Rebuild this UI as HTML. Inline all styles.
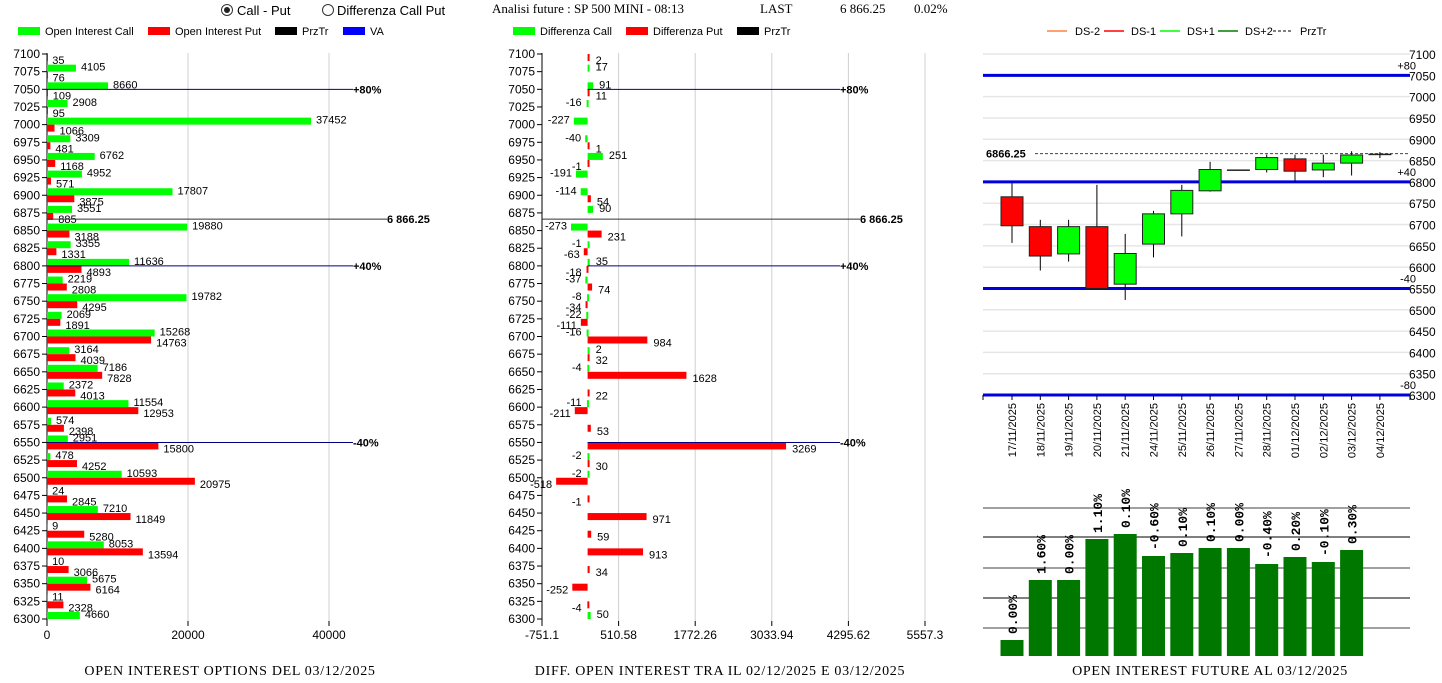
<!DOCTYPE html>
<html><head><meta charset="utf-8">
<style>
html,body{margin:0;padding:0;background:#fff;width:1442px;height:683px;overflow:hidden}
svg{display:block;font-family:"Liberation Sans",sans-serif}
.ser{font-family:"Liberation Serif",serif}
.ttl{font-family:"Liberation Serif",serif;font-size:14px;letter-spacing:0.7px}
</style></head>
<body>
<svg id="s" width="1442" height="683" viewBox="0 0 1442 683" xmlns="http://www.w3.org/2000/svg">
<g>
  <g><circle cx="227" cy="10" r="5.5" fill="#fff" stroke="#333"/><circle cx="227" cy="10" r="3" fill="#222"/><text x="237" y="15" font-size="13">Call - Put</text></g>
  <g><circle cx="328" cy="10" r="5.5" fill="#fff" stroke="#333"/><text x="337" y="15" font-size="13">Differenza Call Put</text></g>
  <text class="ser" x="492" y="13" font-size="13">Analisi future : SP 500 MINI - 08:13</text>
  <text class="ser" x="760" y="13" font-size="13">LAST</text>
  <text class="ser" x="840" y="13" font-size="13">6 866.25</text>
  <text class="ser" x="914" y="13" font-size="13">0.02%</text>
</g>
<g font-size="11">
  <rect x="18" y="27" width="22" height="8" fill="#00ff00"/><text x="45" y="35">Open Interest Call</text>
  <rect x="148" y="27" width="22" height="8" fill="#ff0000"/><text x="175" y="35">Open Interest Put</text>
  <rect x="275" y="27" width="22" height="8" fill="#000"/><text x="302" y="35">PrzTr</text>
  <rect x="343" y="27" width="22" height="8" fill="#0000ff"/><text x="370" y="35">VA</text>
</g>
<g font-size="11">
  <rect x="513" y="27" width="22" height="8" fill="#00ff00"/><text x="540" y="35">Differenza Call</text>
  <rect x="626" y="27" width="22" height="8" fill="#ff0000"/><text x="653" y="35">Differenza Put</text>
  <rect x="737" y="27" width="22" height="8" fill="#000"/><text x="764" y="35">PrzTr</text>
</g>
<g font-size="11">
  <line x1="1047" y1="31" x2="1067" y2="31" stroke="#ff8040" stroke-width="1.5"/><text x="1075" y="35">DS-2</text>
  <line x1="1104" y1="31" x2="1124" y2="31" stroke="#ff0000" stroke-width="1.5"/><text x="1131" y="35">DS-1</text>
  <line x1="1160" y1="31" x2="1180" y2="31" stroke="#00ff00" stroke-width="1.5"/><text x="1187" y="35">DS+1</text>
  <line x1="1218" y1="31" x2="1238" y2="31" stroke="#008000" stroke-width="1.5"/><text x="1245" y="35">DS+2</text>
  <line x1="1273" y1="31" x2="1293" y2="31" stroke="#000" stroke-dasharray="3,2"/><text x="1300" y="35">PrzTr</text>
</g>
<text class="ttl" x="230" y="675" text-anchor="middle">OPEN INTEREST OPTIONS DEL 03/12/2025</text>
<text class="ttl" x="720" y="675" text-anchor="middle">DIFF. OPEN INTEREST TRA IL 02/12/2025 E 03/12/2025</text>
<text class="ttl" x="1210" y="675" text-anchor="middle">OPEN INTEREST FUTURE AL 03/12/2025</text>
<g id="g1"></g>
<g id="g2"></g>
<g id="g3"></g>
<g id="g4"></g>
</svg>
<script>
const strikes=[7100,7075,7050,7025,7000,6975,6950,6925,6900,6875,6850,6825,6800,6775,6750,6725,6700,6675,6650,6625,6600,6575,6550,6525,6500,6475,6450,6425,6400,6375,6350,6325,6300];
const oiCall=[null,4105,8660,2908,37452,3309,6762,4952,17807,3551,19880,3355,11636,2219,19782,2069,15268,3164,7186,2372,11554,574,2951,478,10593,24,7210,9,8053,10,5675,11,4660];
const oiPut=[35,76,109,95,1066,481,1168,571,3875,885,3188,1331,4893,2808,4295,1891,14763,4039,7828,4013,12953,2398,15800,4252,20975,2845,11849,5280,13594,3066,6164,2328,null];
const diffCall=[null,17,91,-16,-227,-40,251,-191,-114,90,-273,-1,35,-37,-8,-22,-16,2,-4,null,-11,null,null,-2,-2,null,null,null,null,null,null,null,50];
const diffPut=[2,null,11,null,null,1,-1,null,54,null,231,-63,-18,74,-34,-111,984,32,1628,22,-211,53,3269,30,-518,-1,971,59,913,34,-252,-4,null];
const oiTicks=[0,20000,40000];
const diffTicks=[-751.1,510.58,1772.26,3033.94,4295.62,5557.3];
const przTr=6866.25;
const vaLevels=[7050,6800,6550];
const vaLabels=["+80%","+40%","-40%"];
const dates=["17/11/2025","18/11/2025","19/11/2025","20/11/2025","21/11/2025","24/11/2025","25/11/2025","26/11/2025","27/11/2025","28/11/2025","01/12/2025","02/12/2025","03/12/2025","04/12/2025"];
const cOpen=[6765,6695,6631,6695,6560,6654,6725,6779,6828,6829,6854,6828,6844,6865];
const cClose=[6697,6626,6695,6550,6632,6725,6780,6829,6828,6857,6825,6844,6863,6865];
const cHigh=[6797,6711,6711,6793,6678,6732,6793,6847,6828,6864,6864,6864,6872,6870];
const cLow=[6657,6592,6613,6550,6523,6623,6672,6777,6828,6822,6800,6811,6815,6856];
const priceTicks=[7100,7050,7000,6950,6900,6850,6800,6750,6700,6650,6600,6550,6500,6450,6400,6350,6300];
const bandLevels=[7050,6800,6550,6300];
const bandLabels=["+80","+40","-40","-80"];
const futOI=[16,76,76,117,122,100,103,108,108,92,99,94,106];
const futPct=["0.00%","1.60%","0.00%","1.10%","0.10%","-0.60%","0.10%","0.10%","0.00%","-0.40%","0.20%","-0.10%","0.30%"];

const NS="http://www.w3.org/2000/svg";
function mk(p,tag,a,txt){const e=document.createElementNS(NS,tag);for(const k in a)e.setAttribute(k,a[k]);if(txt!==undefined)e.textContent=txt;p.appendChild(e);return e;}
const yS=s=>54+(7100-s)*(565/800);

// ---- chart 1
(function(){
const g=document.getElementById('g1');
const x=v=>47+v*(141/20000);
oiTicks.forEach(t=>{
 if(t>0){const l=mk(g,'line',{x1:x(t),y1:53,x2:x(t),y2:621,stroke:'#d0d0d0'});
 
 }
 mk(g,'line',{x1:x(t),y1:621,x2:x(t),y2:626,stroke:'#000'});
 const tx=mk(g,'text',{x:x(t),y:639,'font-size':12,'text-anchor':'middle'},String(t));
 
 
});
mk(g,'line',{x1:47,y1:53,x2:47,y2:621,stroke:'#000'});
strikes.forEach((s,i)=>{
 const y=yS(s);
 mk(g,'line',{x1:42,y1:y,x2:47,y2:y,stroke:'#000'});
 const tl=mk(g,'text',{x:40,y:y+4,'font-size':12,'text-anchor':'end'},String(s));
 
 
 if(oiCall[i]!==null){
  const r=mk(g,'rect',{x:47,y:y-7,width:Math.max(1,x(oiCall[i])-47),height:7,fill:'#00ff00'});
  
  
  mk(g,'text',{x:x(oiCall[i])+5,y:y-1,'font-size':11},String(oiCall[i]));
 }
 if(oiPut[i]!==null){
  const r=mk(g,'rect',{x:47,y:y,width:Math.max(1,x(oiPut[i])-47),height:7,fill:'#ff0000'});
  
  
  mk(g,'text',{x:x(oiPut[i])+5,y:y+10,'font-size':11},String(oiPut[i]));
 }
});
const py=yS(przTr);
const pl=mk(g,'line',{x1:47,y1:py,x2:387,y2:py,stroke:'#333'});


mk(g,'text',{x:387,y:py+4,'font-size':11,'font-weight':'bold'},'6 866.25');
vaLevels.forEach((v,i)=>{
 const vy=yS(v);
 const l=mk(g,'line',{x1:47,y1:vy,x2:353,y2:vy,stroke:'#000080'});
 
 
 mk(g,'text',{x:353,y:vy+4,'font-size':11,'font-weight':'bold'},vaLabels[i]);
});
})();

// ---- chart 2
(function(){
const g=document.getElementById('g2');
const k=(925-542)/(5557.3+751.1);
const x=v=>542+(v+751.1)*k;
diffTicks.forEach((t,j)=>{
 if(j>0){const l=mk(g,'line',{x1:x(t),y1:53,x2:x(t),y2:621,stroke:'#d0d0d0'});
 
 }
 mk(g,'line',{x1:x(t),y1:621,x2:x(t),y2:626,stroke:'#000'});
 const tx=mk(g,'text',{x:x(t),y:639,'font-size':12,'text-anchor':'middle'},String(t));
 
 
});
mk(g,'line',{x1:542,y1:53,x2:542,y2:621,stroke:'#000'});
const x0=x(0);
function bar(v,y,col,dy,name){
 const xe=x(v);
 const r=mk(g,'rect',{x:Math.min(x0,xe),y:y,width:Math.max(2,Math.abs(xe-x0)),height:7,fill:col});
 
 
 if(v>=0)mk(g,'text',{x:Math.max(xe,x0+2)+6,y:y+dy,'font-size':11},String(v));
 else mk(g,'text',{x:Math.min(xe,x0-2)-4,y:y+dy,'font-size':11,'text-anchor':'end'},String(v));
}
strikes.forEach((s,i)=>{
 const y=yS(s);
 mk(g,'line',{x1:537,y1:y,x2:542,y2:y,stroke:'#000'});
 const tl=mk(g,'text',{x:535,y:y+4,'font-size':12,'text-anchor':'end'},String(s));
 
 
 if(diffCall[i]!==null)bar(diffCall[i],y-7,'#00ff00',6,'diff-call-bar');
 if(diffPut[i]!==null)bar(diffPut[i],y,'#ff0000',10,'diff-put-bar');
});
const py=yS(przTr);
const pl=mk(g,'line',{x1:542,y1:py,x2:860,y2:py,stroke:'#333'});


mk(g,'text',{x:860,y:py+4,'font-size':11,'font-weight':'bold'},'6 866.25');
vaLevels.forEach((v,i)=>{
 const vy=yS(v);
 const l=mk(g,'line',{x1:x0,y1:vy,x2:840,y2:vy,stroke:'#000080'});
 
 
 mk(g,'text',{x:840,y:vy+4,'font-size':11,'font-weight':'bold'},vaLabels[i]);
});
})();

// ---- chart 3 candles
(function(){
const g=document.getElementById('g3');
const y=p=>54+(7100-p)*(341/800);
const cx=i=>1012+i*28.3;
priceTicks.forEach(p=>{
 const l=mk(g,'line',{x1:983,y1:y(p),x2:1410,y2:y(p),stroke:'#e6e6e6','stroke-width':1.5});
 
 
 const t=mk(g,'text',{x:1409,y:y(p)+5,'font-size':12},String(p));
 
 
});
bandLevels.forEach((b,i)=>{
 const l=mk(g,'line',{x1:983,y1:y(b),x2:1410,y2:y(b),stroke:'#0000dd','stroke-width':3});
 
 
 mk(g,'text',{x:1416,y:y(b)-6,'font-size':11,'text-anchor':'end'},bandLabels[i]);
});
const py=y(przTr);
const pl=mk(g,'line',{x1:1035,y1:py,x2:1410,y2:py,stroke:'#444','stroke-dasharray':'3,2'});


mk(g,'text',{x:986,y:py+4,'font-size':11,'font-weight':'bold'},'6866.25');
mk(g,'line',{x1:983,y1:y(6300),x2:983,y2:y(6300)+5,stroke:'#000'});
mk(g,'line',{x1:1410,y1:y(6300),x2:1410,y2:y(6300)+5,stroke:'#000'});
dates.forEach((d,i)=>{
 const X=cx(i);
 mk(g,'line',{x1:X,y1:y(6300),x2:X,y2:y(6300)+5,stroke:'#000'});
 const t=mk(g,'text',{x:0,y:0,'font-size':11,'text-anchor':'end',transform:`translate(${X+4},${y(6300)+8}) rotate(-90)`},d);
 
 
 const o=cOpen[i],c=cClose[i];
 const w=mk(g,'line',{x1:X,y1:y(cHigh[i]),x2:X,y2:y(cLow[i]),stroke:'#000'});
 
 
 const top=y(Math.max(o,c)),h=Math.abs(y(o)-y(c));
 const r=mk(g,'rect',{x:X-11,y:top,width:22,height:Math.max(0.5,h),fill:c>=o?'#00ff00':'#ff0000',stroke:'#222','stroke-width':1});
 
 
});
})();

// ---- chart 4 future OI
(function(){
const g=document.getElementById('g4');
const base=656;
const y=v=>base-v;
[508,537,568,598,628].forEach((gy,j)=>{
 const l=mk(g,'line',{x1:983,y1:gy,x2:1410,y2:gy,stroke:j%2?'#000':'#808080','stroke-width':j%2?1:1.5});
 
 
});
futOI.forEach((v,i)=>{
 const X=1012+i*28.3;
 const r=mk(g,'rect',{x:X-11.5,y:y(v),width:23,height:v,fill:'#007800'});
 
 
 const t=mk(g,'text',{x:0,y:0,'font-size':13,'font-weight':'bold','font-family':'Liberation Mono, monospace',transform:`translate(${X+5},${y(v)-6}) rotate(-90)`},futPct[i]);
 
 
});
})();
</script>
</body></html>
